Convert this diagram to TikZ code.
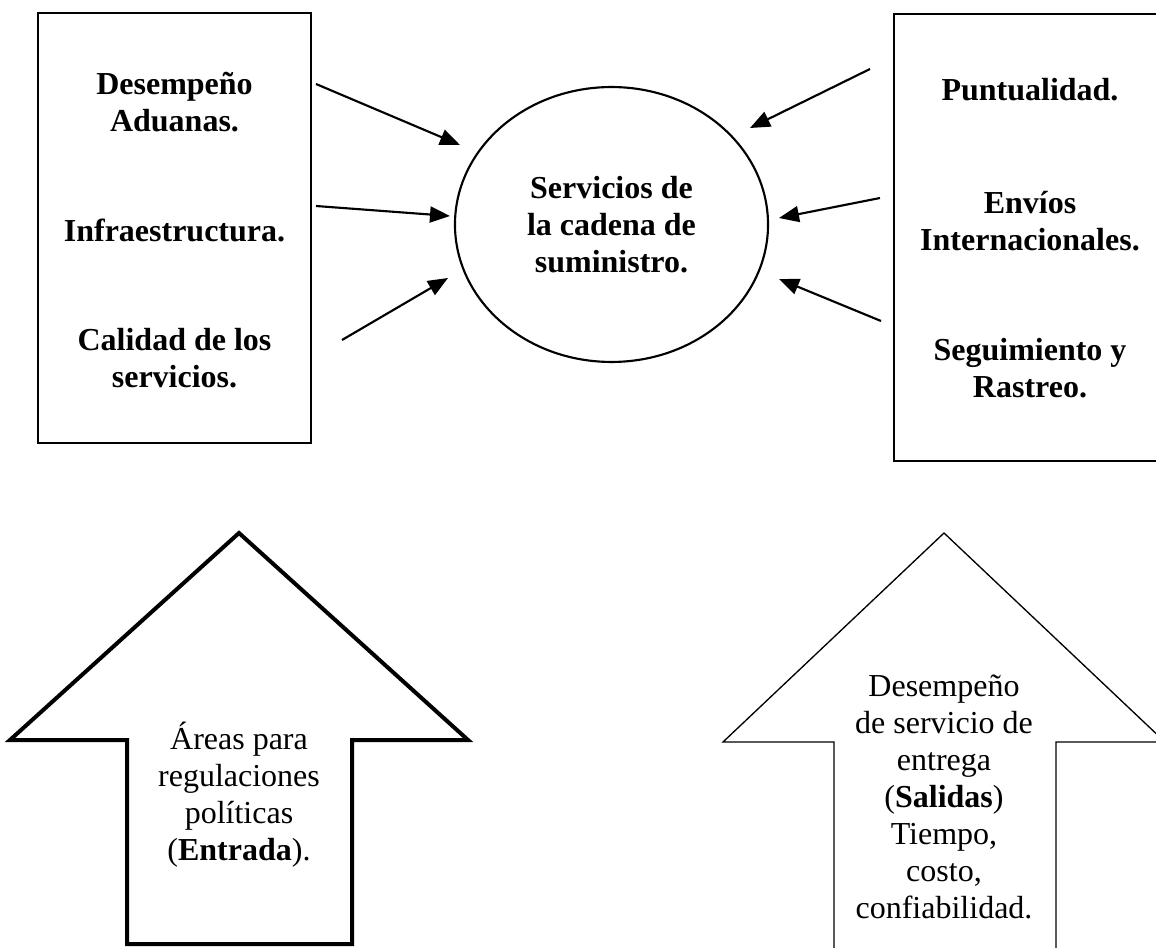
\documentclass[tikz,border=0pt]{standalone}
\usepackage{fontspec}
\setmainfont{Liberation Serif}
\usetikzlibrary{shapes.geometric,arrows.meta,positioning}

\begin{document}
\begin{tikzpicture}[x=0.375pt, y=-0.375pt, node distance=48pt, >={Triangle[length=7.5pt,width=6pt]}]
			\tikzset{
				panel/.style={rectangle, draw=black, line width=0.8pt, minimum width=102.4pt},
				item/.style={font=\fontsize{12}{13.9}\selectfont\bfseries, align=center, inner sep=0pt},
				hub/.style={ellipse, draw=black, line width=0.8pt, minimum width=117.4pt, minimum height=103.1pt, inner sep=0pt, font=\fontsize{12}{13.9}\selectfont\bfseries, align=center},
				note/.style={font=\fontsize{12}{13.9}\selectfont, align=center, inner sep=0pt},
				arrow/.style={line width=0.8pt, ->},
			}
			\clip (0,0) rectangle (1156,948);
			\node[panel, minimum height=161.3pt](leftbox) at (174.5,228) {};
			\node[panel, minimum height=167.6pt](rightbox) at (1030.5,237.5) {};
			\node[hub](cadena) at (611.5,224.5) {Servicios de\\la cadena de\\suministro.};
			\node[item](aduanas) at (174.5,102) {Desempeño\\Aduanas.};
			\node[item, below of=aduanas](infra) {Infraestructura.};
			\node[item, below of=infra](calidad) {Calidad de los\\servicios.};
			\node[item](puntual) at (1030,90) {Puntualidad.};
			\node[item, below of=puntual, yshift=-1.1pt](envios) {Envíos\\Internacionales.};
			\node[item, below of=envios, yshift=-7.1pt](rastreo) {Seguimiento y\\Rastreo.};
			%big arrows
			\draw[line width=1.5pt, miter limit=20] (127,944) -- (127,740) -- (10,740) -- (239,533) -- (468,740) -- (352,740) -- (352,944) -- cycle;
			\draw[line width=0.5pt, miter limit=20] (834,960) -- (834,742) -- (723,742) -- (944,533) -- (1165,742) -- (1056,742) -- (1056,960);
			\node[note](entrada) at (239,795) {Áreas para\\regulaciones\\políticas\\(\textbf{Entrada}).};
			\node[note](salidas) at (944,797) {Desempeño\\de servicio de\\entrega\\(\textbf{Salidas})\\Tiempo,\\costo,\\confiabilidad.};
			%arrow ends
			\coordinate (a1) at (316,84);  \coordinate (b1) at (460,145);
			\coordinate (a2) at (316,206); \coordinate (b2) at (450,216);
			\coordinate (a3) at (342,340); \coordinate (b3) at (448,278);
			\coordinate (c1) at (870,69);  \coordinate (d1) at (750,128);
			\coordinate (c2) at (880,198); \coordinate (d2) at (779,218);
			\coordinate (c3) at (881,321); \coordinate (d3) at (779,279);
			%draw arrows
			\draw[arrow] (a1) -- (b1);
			\draw[arrow] (a2) -- (b2);
			\draw[arrow] (a3) -- (b3);
			\draw[arrow] (c1) -- (d1);
			\draw[arrow] (c2) -- (d2);
			\draw[arrow] (c3) -- (d3);
		\end{tikzpicture}
\end{document}
